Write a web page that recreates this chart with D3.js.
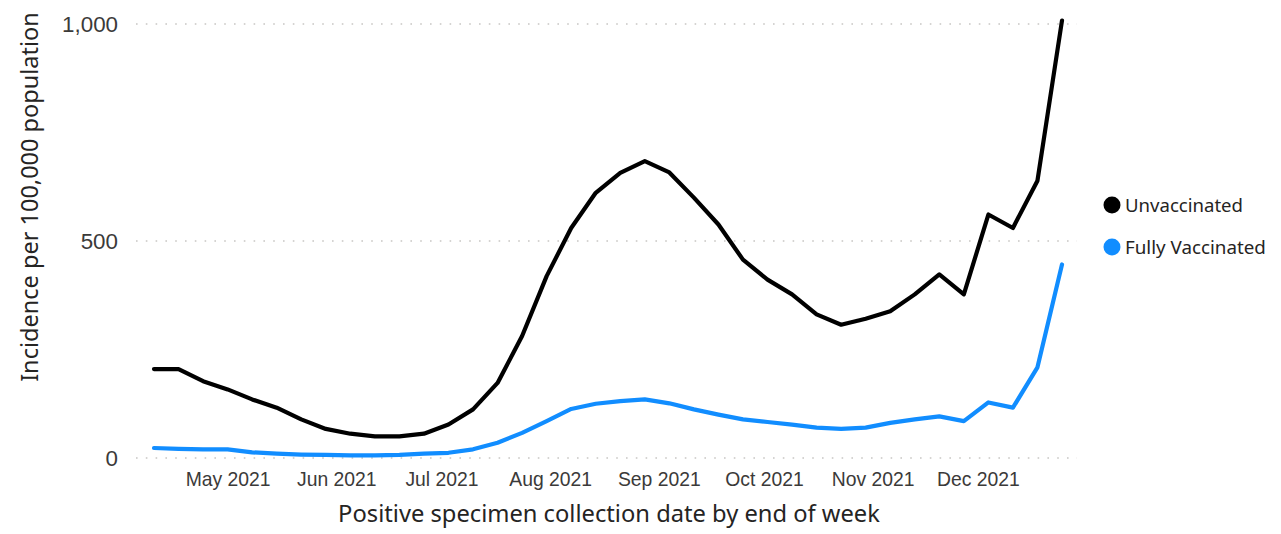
<!DOCTYPE html>
<html>
<head>
<meta charset="utf-8">
<script src="https://cdn.jsdelivr.net/npm/d3@7"></script>
<style>
  html, body { margin: 0; padding: 0; background: #fff; }
  svg { display: block; font-family: "Segoe UI", "Noto Sans", "Open Sans", sans-serif; }
</style>
</head>
<body>
<svg id="chart" width="1281" height="534"></svg>
<script>
// ---- data ----
const weekEnding = [
  "2021-04-10","2021-04-17","2021-04-24","2021-05-01","2021-05-08","2021-05-15","2021-05-22","2021-05-29",
  "2021-06-05","2021-06-12","2021-06-19","2021-06-26","2021-07-03","2021-07-10","2021-07-17","2021-07-24",
  "2021-07-31","2021-08-07","2021-08-14","2021-08-21","2021-08-28","2021-09-04","2021-09-11","2021-09-18",
  "2021-09-25","2021-10-02","2021-10-09","2021-10-16","2021-10-23","2021-10-30","2021-11-06","2021-11-13",
  "2021-11-20","2021-11-27","2021-12-04","2021-12-11","2021-12-18","2021-12-25"
];
const unvaccinated = [
  205,205,177,158,135,116,89,67,
  56,50,50,56,77,112,173,281,
  419,530,611,657,684,658,600,538,
  457,411,377,331,307,321,338,377,
  423,377,561,530,639,1008
];
const fullyVaccinated = [
  23,21,20,20,13,10,8,7,
  6,6,7,10,12,20,35,58,
  85,113,125,131,135,126,112,100,
  89,83,77,70,67,70,81,89,
  96,85,128,116,209,446
];
const seriesNames = ["Unvaccinated", "Fully Vaccinated"];
const seriesColors = ["#000000", "#118DFF"];
const yTicks = [0, 500, 1000];
const yTitle = "Incidence per 100,000 population";
const xTitle = "Positive specimen collection date by end of week";

// ---- layout ----
const svg = d3.select("#chart");
const parse = d3.timeParse("%Y-%m-%d");
const dates = weekEnding.map(parse);

const plotLeft = 136, plotRight = 1077;
const x = d3.scaleTime().domain(d3.extent(dates)).range([154, 1062]);
const y = d3.scaleLinear().domain([0, 1000]).range([458, 24]);

function fitText(sel, target) {
  const node = sel.node();
  const fs = parseFloat(sel.attr("font-size"));
  const w = node.getComputedTextLength();
  if (w > 0) sel.attr("font-size", (fs * target / w).toFixed(2));
  return sel;
}

// gridlines
svg.append("g").selectAll("line").data(yTicks).join("line")
  .attr("x1", plotLeft).attr("x2", plotRight)
  .attr("y1", d => y(d)).attr("y2", d => y(d))
  .attr("stroke", "#c8c6c4").attr("stroke-width", 1.6)
  .attr("stroke-dasharray", "1.6,8.2").attr("stroke-linecap", "butt");

// y axis
const yAxis = d3.axisLeft(y).tickValues(yTicks).tickFormat(d3.format(",")).tickSize(0).tickPadding(0);
const gy = svg.append("g").attr("transform", "translate(118,0)").call(yAxis);
gy.select(".domain").remove();
gy.selectAll("text").attr("fill", "#3b3a39").attr("font-size", 22).attr("dy", "0.34em")
  .style("font-family", "inherit");
fitText(gy.selectAll("text").filter(d => d === 1000), 56);
const ySize = gy.selectAll("text").filter(d => d === 1000).attr("font-size");
gy.selectAll("text").attr("font-size", ySize);

// x axis
const xAxis = d3.axisBottom(x).ticks(d3.timeMonth.every(1)).tickFormat(d3.timeFormat("%b %Y")).tickSize(0).tickPadding(0);
const gx = svg.append("g").attr("transform", "translate(0,472)").call(xAxis);
gx.select(".domain").remove();
gx.selectAll("text").attr("fill", "#3b3a39").attr("font-size", 19).attr("dy", "0.72em")
  .style("font-family", "inherit");
const firstX = gx.selectAll("text").filter((d, i) => i === 0);
fitText(firstX, 85);
const xSize = firstX.attr("font-size");
gx.selectAll("text").attr("font-size", xSize);

// axis titles
const yt = svg.append("text").text(yTitle)
  .attr("transform", "translate(38,197) rotate(-90)")
  .attr("text-anchor", "middle").attr("font-size", 24).attr("fill", "#252423");
fitText(yt, 370);

const xt = svg.append("text").text(xTitle)
  .attr("x", 609).attr("y", 522)
  .attr("text-anchor", "middle").attr("font-size", 24).attr("fill", "#252423");
fitText(xt, 542);

// lines
const line = d3.line().x((d, i) => x(dates[i])).y(d => y(d)).curve(d3.curveLinear);
const allSeries = [unvaccinated, fullyVaccinated];
svg.append("g").selectAll("path").data(allSeries).join("path")
  .attr("d", d => line(d))
  .attr("fill", "none")
  .attr("stroke", (d, i) => seriesColors[i])
  .attr("stroke-width", 4.2)
  .attr("stroke-linejoin", "round")
  .attr("stroke-linecap", "round");
// draw black on top
svg.select("g:last-of-type").selectAll("path").filter((d, i) => i === 0).raise();

// legend
const legend = svg.append("g").selectAll("g").data(seriesNames).join("g")
  .attr("transform", (d, i) => `translate(1112,${205 + i * 42})`);
legend.append("circle").attr("r", 8.5).attr("fill", (d, i) => seriesColors[i]);
legend.append("text").text(d => d)
  .attr("x", 13).attr("dy", "0.35em")
  .attr("font-size", 18).attr("fill", "#252423")
  .each(function(d, i) { fitText(d3.select(this), i === 0 ? 118 : 141); });
</script>
</body>
</html>
